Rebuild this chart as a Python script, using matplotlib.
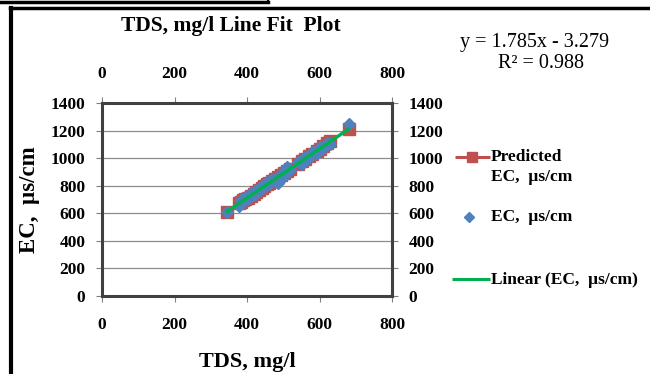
import matplotlib
matplotlib.use('Agg')
import matplotlib.pyplot as plt
from matplotlib.lines import Line2D

plt.rcParams['font.family'] = ['Liberation Serif', 'DejaVu Serif']
plt.rcParams['font.weight'] = 'bold'

# TDS (mg/l) against measured EC and the regression prediction
tds = [345, 378, 384, 390, 395, 402, 410, 418, 425, 432, 440, 447, 455, 462, 470, 478,
       486, 494, 502, 510, 518, 540, 552, 560, 570, 580, 592, 600, 610, 622, 630, 680]
ec = [612, 655, 700, 680, 720, 705, 745, 735, 770, 760, 795, 790, 830, 815, 850, 845,
      818, 885, 870, 935, 915, 975, 960, 1005, 1000, 1045, 1040, 1080, 1070, 1110, 1105, 1245]
predicted = [612.5, 671.4, 682.2, 692.9, 701.8, 714.3, 728.6, 742.8, 755.3, 767.8, 782.1,
             794.6, 808.9, 821.4, 835.7, 850.0, 864.2, 878.5, 892.8, 907.1, 921.4, 960.6,
             982.1, 996.3, 1014.2, 1032.0, 1053.4, 1067.7, 1085.6, 1107.0, 1121.3, 1210.5]
slope, intercept = 1.785, -3.279
trend_x = [min(tds), max(tds)]
trend_y = [slope * x + intercept for x in trend_x]

xticks = [0, 200, 400, 600, 800]
yticks = [0, 200, 400, 600, 800, 1000, 1200, 1400]

red = '#C0504D'
blue = '#4F81BD'
green = '#00B050'

W, H = 650, 374


def fx(px):
    return px / W


def fy(py):
    return 1 - py / H


fig = plt.figure(figsize=(6.5, 3.74), dpi=100)
ax = fig.add_axes([fx(102), fy(296), 290 / W, 193 / H])

ax.plot(tds, predicted, 's', color=red, markersize=8.5, zorder=3)
ax.plot(tds, ec, 'D', color=blue, markersize=6.5, zorder=4)
ax.plot(trend_x, trend_y, '-', color=green, linewidth=2.4, zorder=5)

ax.set_xlim(0, 800)
ax.set_ylim(0, 1400)
ax.set_xticks(xticks)
ax.set_yticks(yticks)
ax.yaxis.grid(True, color='#8c8c8c', linewidth=0.9)
ax.set_axisbelow(True)
for s in ax.spines.values():
    s.set_color('#404040')
    s.set_linewidth(2.2)
ax.tick_params(axis='both', direction='out', length=4, color='#808080', labelsize=12.5)
ax.tick_params(axis='x', pad=11)
ax.tick_params(axis='y', pad=8)
ax.tick_params(top=True, labeltop=True, right=True, labelright=True)
for lab in ax.get_xticklabels() + ax.get_yticklabels():
    lab.set_fontweight('bold')

ax.set_xlabel('TDS, mg/l', fontsize=16, fontweight='bold', labelpad=14)
fig.text(fx(30), fy(200), 'EC,  \u00b5s/cm', rotation=90, fontsize=16.5,
         fontweight='bold', ha='center', va='center')

fig.text(fx(231), fy(26), 'TDS, mg/l Line Fit  Plot', fontsize=15.5,
         fontweight='bold', ha='center', va='center')
fig.text(fx(535), fy(43), 'y = 1.785x - 3.279', fontsize=14.5,
         fontweight='normal', ha='center', va='center')
fig.text(fx(541), fy(64), 'R\u00b2 = 0.988', fontsize=14.5,
         fontweight='normal', ha='center', va='center')

# legend drawn beside the plot
leg_font = dict(fontsize=12.5, fontweight='bold', ha='left', va='center')
fig.add_artist(Line2D([fx(455), fx(490)], [fy(157)] * 2, color=red, linewidth=2.2,
                      solid_capstyle='butt'))
fig.add_artist(Line2D([fx(472)], [fy(157)], color=red, marker='s', markersize=7.5))
fig.text(fx(491), fy(157), 'Predicted', **leg_font)
fig.text(fx(491), fy(177), 'EC,  \u00b5s/cm', **leg_font)
fig.add_artist(Line2D([fx(469)], [fy(217)], color=blue, marker='D', markersize=5.5))
fig.text(fx(491), fy(217), 'EC,  \u00b5s/cm', **leg_font)
fig.add_artist(Line2D([fx(452), fx(490)], [fy(279)] * 2, color=green, linewidth=2.2,
                      solid_capstyle='butt'))
fig.text(fx(491), fy(280), 'Linear (EC,  \u00b5s/cm)', **leg_font)

# outer frame edges
fig.add_artist(Line2D([0, fx(268)], [fy(1.5)] * 2, color='black', linewidth=2.5))
fig.add_artist(Line2D([fx(268)] * 2, [1, fy(3)], color='black', linewidth=1.5))
fig.add_artist(Line2D([fx(10), 1], [fy(8)] * 2, color='black', linewidth=2.5))
fig.add_artist(Line2D([fx(11)] * 2, [fy(8), 0], color='black', linewidth=3))

fig.savefig('out.png', dpi=100)
